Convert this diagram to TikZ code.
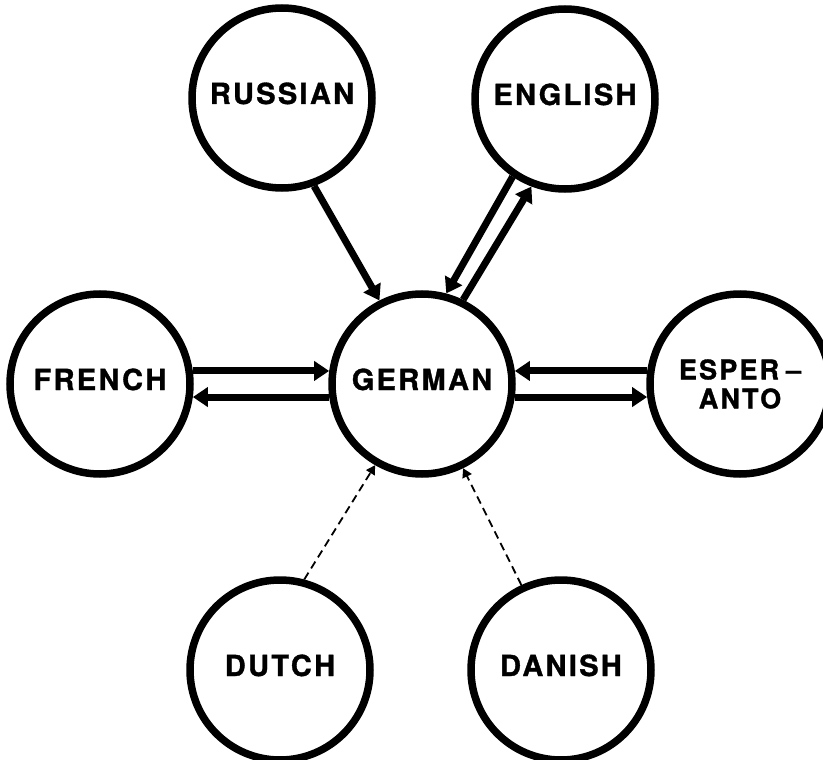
\documentclass[tikz,border=0pt]{standalone}
\usepackage{fontspec}
\newfontfamily\langfont{TeX Gyre Heros}[LetterSpace=8,FakeBold=1.2]
\usetikzlibrary{arrows.meta}
\begin{document}
\begin{tikzpicture}[x=1pt,y=-1pt,
  langbase/.style={circle, draw, line width=7.5pt, minimum size=180pt, inner sep=0pt},
  lang/.style={langbase, font=\langfont\bfseries\fontsize{29}{32}\selectfont,
    text height=21pt, text depth=9pt},
  flow/.style={line width=7pt, -{Triangle[length=15pt,width=19pt]}},
  weak/.style={line width=1.8pt, dash pattern=on 8pt off 5pt,
    -{Triangle[length=9pt,width=10pt]}}]
\useasboundingbox (0,0) rectangle (823,760);

% language circles
\node[lang] (russian) at (282,98) {RUSSIAN};
\node[lang] (english) at (565,99) {ENGLISH};
\node[lang] (french) at (100,384) {FRENCH};
\node[lang] (german) at (422,384) {GERMAN};
\node[langbase, align=center, font=\langfont\bfseries\fontsize{27}{29}\selectfont]
  (esperanto) at (740,384) {ESPER\hspace{7pt}–\\ANTO};
\node[lang] (dutch) at (280,670) {DUTCH};
\node[lang] (danish) at (561,670) {DANISH};

% translation links
\draw[flow] (russian.-70) -- (german.117);
\draw[flow] (german.64) -- (english.-111);
\draw[flow] (english.-124) -- (german.75);
\draw[flow] (french.8) -- (german.172);
\draw[flow] (german.188) -- (french.-8);
\draw[flow] (esperanto.172) -- (german.8);
\draw[flow] (german.-8) -- (esperanto.188);
\draw[weak] (dutch.75) -- (german.-120);
\draw[weak] (danish.115) -- (german.-64);
\end{tikzpicture}
\end{document}
